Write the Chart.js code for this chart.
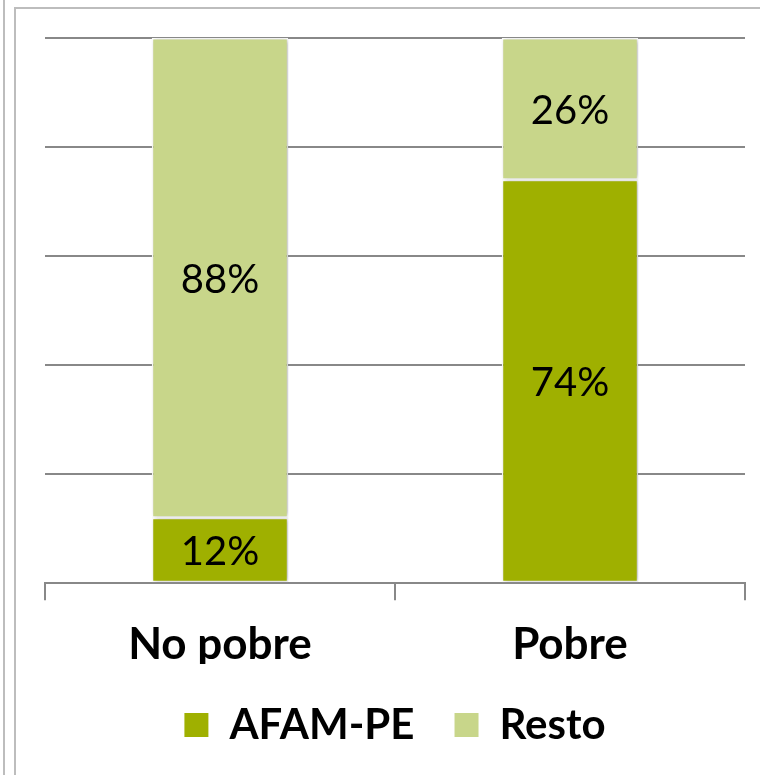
<!DOCTYPE html>
<html>
<head>
<meta charset="utf-8">
<script src="https://cdn.jsdelivr.net/npm/chart.js@4"></script>
<style>
  html, body { margin: 0; padding: 0; background: #fff; }
  body { width: 760px; height: 775px; position: relative; overflow: hidden; }
  .page-line { position: absolute; left: 3px; top: 0; width: 2px; height: 775px; background: #bdbdbd; }
  .frame { position: absolute; left: 14px; top: 7px; width: 800px; height: 800px;
           border-left: 2px solid #bdbdbd; border-top: 2px solid #bdbdbd; }
  #wrap { position: absolute; left: 0; top: 0; width: 760px; height: 775px; }
</style>
</head>
<body>
<div class="page-line"></div>
<div class="frame"></div>
<div id="wrap"><canvas id="chart"></canvas></div>
<script>
  const categories = ['No pobre', 'Pobre'];
  const afamValues = [12, 74];
  const restoValues = [88, 26];
  const seriesNames = ['AFAM-PE', 'Resto'];

  const darkGreen = '#9fb000';
  const lightGreen = '#c8d68a';
  const gridGray = '#888888';

  // centred percentage inside each bar segment
  const segmentLabels = {
    id: 'segmentLabels',
    afterDatasetsDraw(chart) {
      const ctx = chart.ctx;
      ctx.save();
      ctx.font = '40px Lato';
      ctx.fillStyle = '#000';
      ctx.textAlign = 'center';
      ctx.textBaseline = 'middle';
      chart.data.datasets.forEach((ds, i) => {
        chart.getDatasetMeta(i).data.forEach((bar, j) => {
          const y = (bar.y + bar.base) / 2;
          ctx.fillText(ds.data[j] + '%', bar.x, y + 2);
        });
      });
      ctx.restore();
    }
  };

  // soft shadow round the bars
  const barShadow = {
    id: 'barShadow',
    beforeDatasetsDraw(chart) {
      const ctx = chart.ctx;
      ctx.save();
      ctx.shadowColor = 'rgba(0,0,0,0.25)';
      ctx.shadowBlur = 5;
      ctx.shadowOffsetX = 2;
    },
    afterDatasetsDraw(chart) {
      chart.ctx.restore();
    }
  };

  new Chart(document.getElementById('chart'), {
    type: 'bar',
    data: {
      labels: categories,
      datasets: [
        { label: seriesNames[0], data: afamValues, backgroundColor: darkGreen,
          borderColor: '#ffffff', borderWidth: 1.5, borderSkipped: false },
        { label: seriesNames[1], data: restoValues, backgroundColor: lightGreen,
          borderColor: '#ffffff', borderWidth: 1.5, borderSkipped: false }
      ]
    },
    options: {
      responsive: true,
      maintainAspectRatio: false,
      animation: false,
      barPercentage: 0.39,
      categoryPercentage: 1,
      layout: { padding: { left: 45, right: 15, top: 38, bottom: 19 } },
      plugins: {
        tooltip: { enabled: false },
        legend: {
          position: 'bottom',
          labels: {
            font: { family: 'Lato', size: 42, weight: 'bold' },
            color: '#000',
            boxWidth: 24,
            boxHeight: 24,
            padding: 40,
            useBorderRadius: false,
            generateLabels(chart) {
              return chart.data.datasets.map((ds, i) => ({
                text: ds.label, fillStyle: ds.backgroundColor,
                strokeStyle: ds.backgroundColor, lineWidth: 0,
                datasetIndex: i, hidden: false
              }));
            }
          }
        }
      },
      scales: {
        x: {
          stacked: true,
          afterFit(scale) { scale.height -= 25; },
          grid: { offset: true, drawOnChartArea: false, color: gridGray, lineWidth: 2, tickLength: 17 },
          border: { color: gridGray, width: 2 },
          ticks: { color: '#000', padding: 18, font: { family: 'Lato', size: 44, weight: 'bold' } }
        },
        y: {
          stacked: true,
          min: 0,
          max: 100,
          ticks: { display: false, stepSize: 20 },
          grid: { color: gridGray, lineWidth: 2, drawTicks: false },
          border: { display: false }
        }
      }
    },
    plugins: [barShadow, segmentLabels]
  });
</script>
</body>
</html>
